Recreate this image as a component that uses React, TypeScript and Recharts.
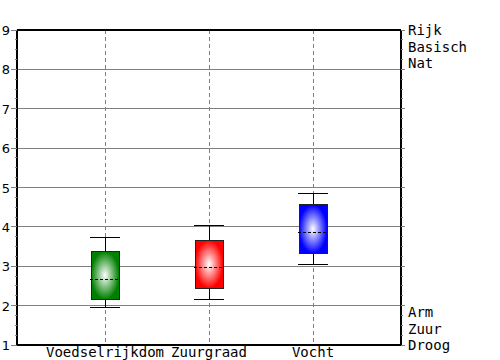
import React from 'react';
import { ComposedChart, Bar, XAxis, YAxis, CartesianGrid, ReferenceLine } from 'recharts';

const categories = ['Voedselrijkdom', 'Zuurgraad', 'Vocht'];
const whiskerLow = [1.96, 2.16, 3.05];
const quartile1 = [2.16, 2.44, 3.33];
const medians = [2.67, 2.97, 3.86];
const quartile3 = [3.38, 3.66, 4.56];
const whiskerHigh = [3.74, 4.04, 4.85];

const boxColors = ['#008000', '#ff0000', '#0000ff'];

const yTicks = Array.from({ length: 33 }, (_, i) => 1 + i * 0.25);
const gridValues = [2, 3, 4, 5, 6, 7, 8];
const topRightLabels = ['Rijk', 'Basisch', 'Nat'];
const bottomRightLabels = ['Arm', 'Zuur', 'Droog'];

const data = categories.map((name, i) => ({
    name,
    range: [whiskerLow[i], whiskerHigh[i]],
    low: whiskerLow[i],
    q1: quartile1[i],
    median: medians[i],
    q3: quartile3[i],
    high: whiskerHigh[i],
    idx: i,
}));

const MONO = '"DejaVu Sans Mono", monospace';
const SANS = '"DejaVu Sans", sans-serif';

function BoxShape(props: any) {
    const { x, width, payload } = props;
    let { y, height } = props;
    if (height < 0) {
        y = y + height;
        height = -height;
    }
    const { low, q1, median, q3, high, idx } = payload;
    // map values via the pixel span the bar got from the y scale
    const py = (v: number) => y + ((high - v) / (high - low)) * height;
    const cx = x + width / 2;
    return (
        <g shapeRendering="crispEdges">
            <line x1={cx} x2={cx} y1={py(high)} y2={py(q3)} stroke="#000" />
            <line x1={cx} x2={cx} y1={py(q1)} y2={py(low)} stroke="#000" />
            <line x1={x - 1} x2={x + width + 1} y1={py(high)} y2={py(high)} stroke="#000" />
            <line x1={x - 1} x2={x + width + 1} y1={py(low)} y2={py(low)} stroke="#000" />
            <rect
                x={x}
                y={py(q3)}
                width={width}
                height={py(q1) - py(q3)}
                fill={`url(#boxGrad${idx})`}
                stroke="#222"
            />
            <line
                x1={x - 1}
                x2={x + width + 1}
                y1={py(median)}
                y2={py(median)}
                stroke="#000"
                strokeDasharray="3 2"
            />
        </g>
    );
}

function LeftTick(props: any) {
    const { x, y, payload } = props;
    const major = Number.isInteger(payload.value);
    return (
        <g>
            <line x1={x - (major ? 6 : 2)} x2={x} y1={y} y2={y} stroke="#808080" shapeRendering="crispEdges" />
            {major && (
                <text x={x - 7} y={y + 5} textAnchor="end" fontFamily={SANS} fontSize={13} fill="#000">
                    {payload.value}
                </text>
            )}
        </g>
    );
}

function RightTick(props: any) {
    const { x, y, payload } = props;
    const v = Number(payload.value);
    const major = Math.abs(v - Math.round(v)) < 1e-6;
    let labels: string[] = [];
    let startY = y;
    if (Math.abs(v - 9) < 1e-6) {
        labels = topRightLabels;
    } else if (Math.abs(v - 1) < 1e-6) {
        labels = bottomRightLabels;
        startY = y - 16.5 * (labels.length - 1);
    }
    return (
        <g>
            <line x1={x} x2={x + (major ? 4 : 2)} y1={y} y2={y} stroke="#808080" shapeRendering="crispEdges" />
            {labels.map((t, i) => (
                <text key={t} x={x + 7} y={startY + i * 16.5 + 5} fontFamily={MONO} fontSize={14} fill="#000">
                    {t}
                </text>
            ))}
        </g>
    );
}

function BottomTick(props: any) {
    const { x, y, payload } = props;
    return (
        <text x={x} y={y + 12} textAnchor="middle" fontFamily={MONO} fontSize={14} fill="#000">
            {payload.value}
        </text>
    );
}

export default function App() {
    return (
        <div style={{ position: 'absolute', left: 0, top: 0, width: 500, height: 360, background: '#fff' }}>
            <ComposedChart width={500} height={360} data={data} margin={{ top: 30, right: 0, bottom: 0, left: 0 }}>
                <defs>
                    {boxColors.map((c, i) => (
                        <radialGradient key={c} id={`boxGrad${i}`} cx="50%" cy="50%" r="50%">
                            <stop offset="0" stopColor="#ffffff" />
                            <stop offset="1" stopColor={c} />
                        </radialGradient>
                    ))}
                </defs>
                <CartesianGrid vertical={false} horizontalValues={gridValues} stroke="#808080" shapeRendering="crispEdges" />
                <CartesianGrid horizontal={false} stroke="#808080" strokeDasharray="4 3" shapeRendering="crispEdges" />
                <XAxis
                    dataKey="name"
                    type="category"
                    padding={{ left: 36, right: 36 }}
                    height={15}
                    axisLine={{ stroke: '#000', strokeWidth: 2 }}
                    tickLine={false}
                    tickSize={0}
                    tickMargin={0}
                    interval={0}
                    tick={<BottomTick />}
                />
                <YAxis
                    type="number"
                    domain={[1, 9]}
                    allowDataOverflow
                    ticks={yTicks}
                    interval={0}
                    width={17}
                    axisLine={{ stroke: '#000', strokeWidth: 2 }}
                    tickLine={false}
                    tickSize={0}
                    tickMargin={0}
                    tick={<LeftTick />}
                />
                <YAxis
                    yAxisId="right"
                    orientation="right"
                    type="number"
                    domain={[1, 9]}
                    allowDataOverflow
                    ticks={yTicks}
                    interval={0}
                    width={99}
                    axisLine={{ stroke: '#000', strokeWidth: 2 }}
                    tickLine={false}
                    tickSize={0}
                    tickMargin={0}
                    tick={<RightTick />}
                />
                <ReferenceLine y={9} stroke="#000" strokeWidth={2} />
                <Bar dataKey="range" barSize={28} isAnimationActive={false} shape={(p: any) => <BoxShape {...p} />} />
            </ComposedChart>
        </div>
    );
}
